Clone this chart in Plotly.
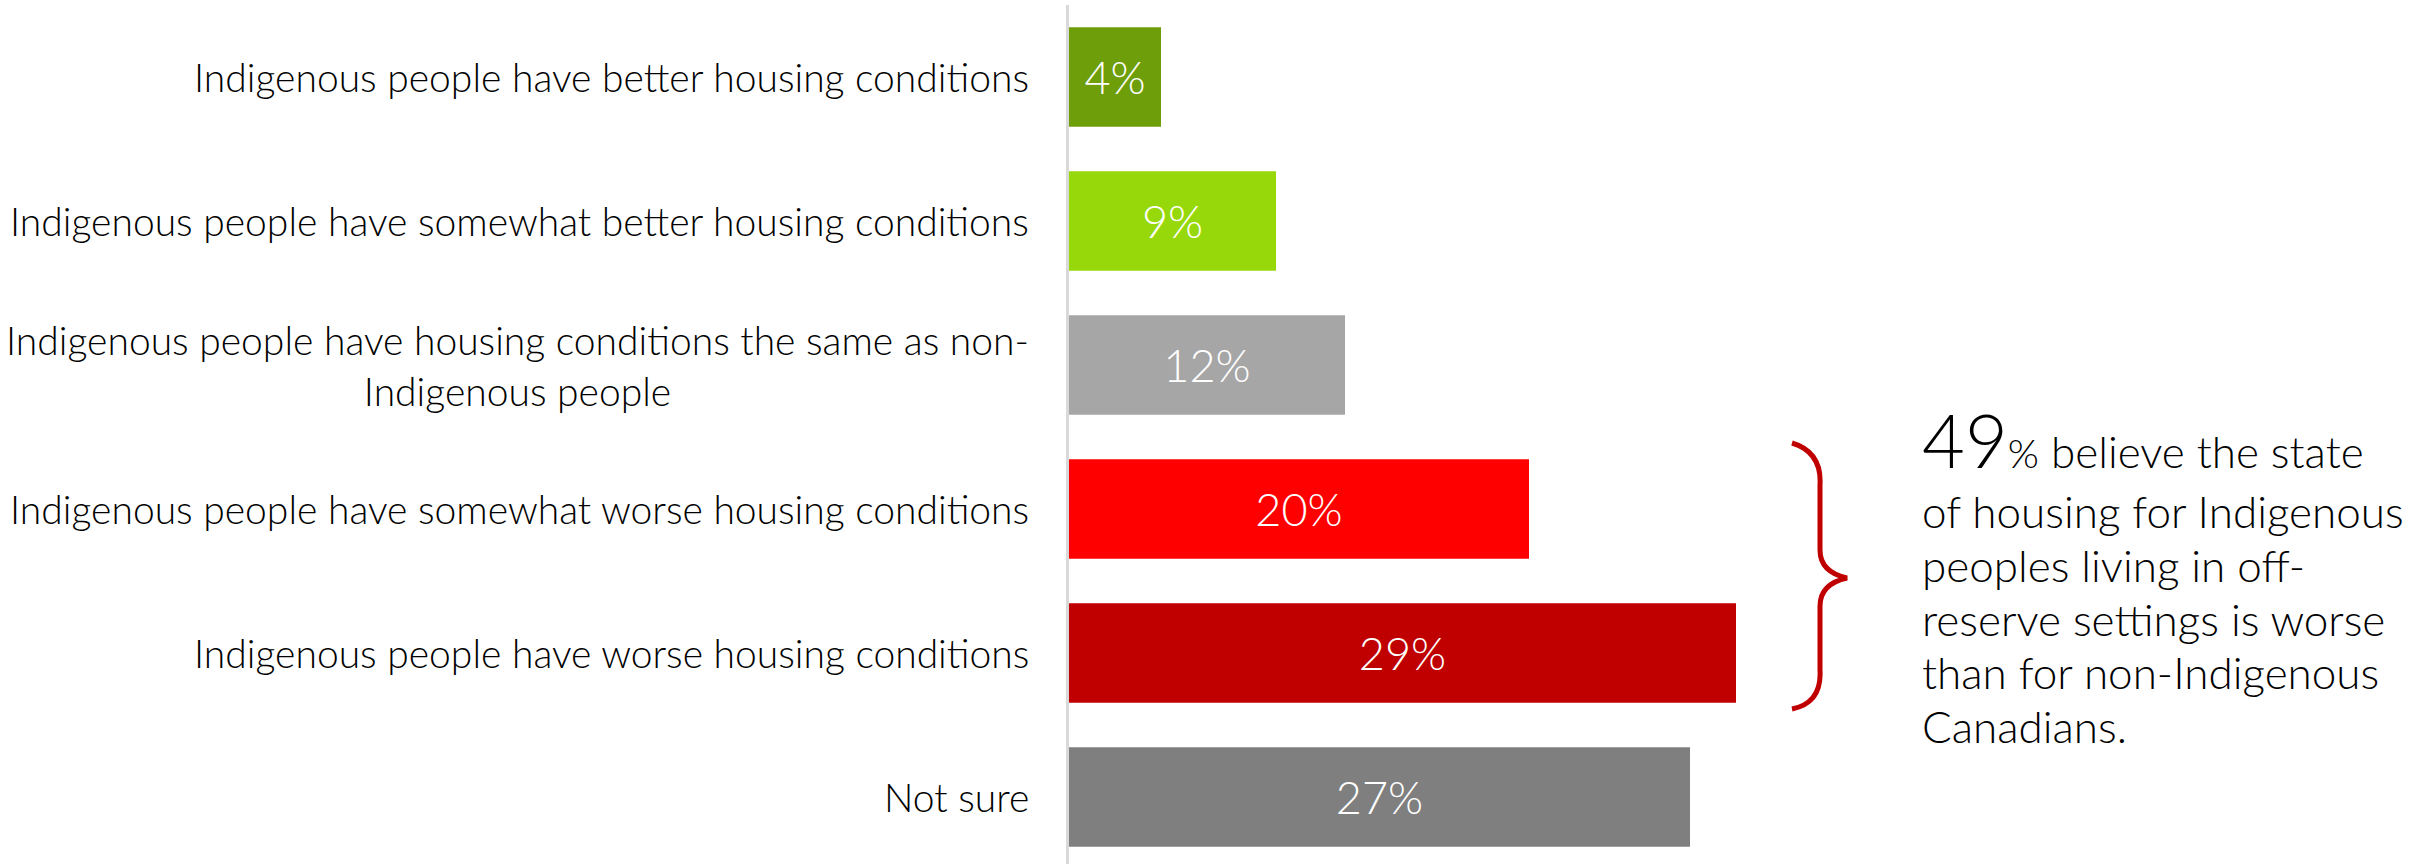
import plotly.graph_objects as go

# ─── DATA ─────────────────────────────────────────────────────
categories = [
    "Indigenous people have better housing conditions",
    "Indigenous people have somewhat better housing conditions",
    "Indigenous people have housing conditions the same as non-<br>Indigenous people",
    "Indigenous people have somewhat worse housing conditions",
    "Indigenous people have worse housing conditions",
    "Not sure",
]
values = [4, 9, 12, 20, 29, 27]
bar_colors = ["#6e9e0a", "#97d80b", "#a6a6a6", "#ff0000", "#c00000", "#7f7f7f"]
value_labels = [f"{v}%" for v in values]

callout_value = "49"
callout_first = "believe the state"
callout_lines = [
    "of housing for Indigenous",
    "peoples living in off-",
    "reserve settings is worse",
    "than for non-Indigenous",
    "Canadians.",
]

FONT = "Lato, 'Open Sans', sans-serif"
W, H = 2413, 864
L, R, T, B = 1069, 0, 5, 0
PW, PH = W - L - R, H - T - B


def px(x):
    return (x - L) / PW


def py(y):
    return (H - B - y) / PH


fig = go.Figure()

# ─── BARS ─────────────────────────────────────────────────────
fig.add_trace(go.Bar(
    y=categories,
    x=values,
    orientation="h",
    marker=dict(color=bar_colors, line=dict(width=0)),
    width=0.69,
    text=value_labels,
    textposition="inside",
    insidetextanchor="middle",
    textfont=dict(family=FONT, size=45, color="white", weight=300),
    hoverinfo="skip",
))

# ─── CATEGORY LABELS (centered multi-line) ────────────────────
for cat in categories:
    fig.add_annotation(
        x=px(1031), xref="paper", y=cat, yref="y",
        text=cat, showarrow=False, xanchor="right", yanchor="middle",
        align="center", font=dict(family=FONT, size=39, color="#000000", weight=300),
    )

# ─── BRACE ────────────────────────────────────────────────────
brace = [(1792, 443), (1822, 452), (1820, 485), (1820, 550), (1820, 572), (1847, 578),
         (1820, 584), (1820, 606), (1820, 670), (1822, 703), (1792, 709)]
p = [(px(a), py(b)) for a, b in brace]
path = (f"M {p[0][0]},{p[0][1]} Q {p[1][0]},{p[1][1]} {p[2][0]},{p[2][1]} "
        f"L {p[3][0]},{p[3][1]} Q {p[4][0]},{p[4][1]} {p[5][0]},{p[5][1]} "
        f"Q {p[6][0]},{p[6][1]} {p[7][0]},{p[7][1]} "
        f"L {p[8][0]},{p[8][1]} Q {p[9][0]},{p[9][1]} {p[10][0]},{p[10][1]}")
fig.add_shape(type="path", path=path, xref="paper", yref="paper",
              line=dict(color="#c00000", width=5))

# ─── CALLOUT TEXT ─────────────────────────────────────────────
text_x = px(1920)
body = dict(family=FONT, size=44, color="#000000", weight=300)
fig.add_annotation(
    x=text_x, xref="paper", y=py(439), yref="paper",
    text=(f"<span style='font-size:74px'>{callout_value}</span>"
          f"<span style='font-size:40px'>%</span> {callout_first}"),
    showarrow=False, xanchor="left", yanchor="middle", align="left", font=body,
)
for i, line in enumerate(callout_lines):
    fig.add_annotation(
        x=text_x, xref="paper", y=py(511 + 53.75 * i), yref="paper",
        text=line, showarrow=False, xanchor="left", yanchor="middle",
        align="left", font=body,
    )

fig.update_layout(
    width=W, height=H,
    margin=dict(l=L, r=R, t=T, b=B),
    paper_bgcolor="white", plot_bgcolor="white",
    showlegend=False,
    bargap=0.31,
)
fig.update_xaxes(range=[0, PW / 23.0], visible=False, fixedrange=True)
fig.update_yaxes(
    autorange=False, range=[5.465, -0.5], fixedrange=True,
    showticklabels=False, showgrid=False, zeroline=False,
    showline=True, linecolor="#d9d9d9", linewidth=3, ticks="",
)

fig.write_html("out.html", config={"displayModeBar": False},
               post_script="document.body.style.margin = '0';")
